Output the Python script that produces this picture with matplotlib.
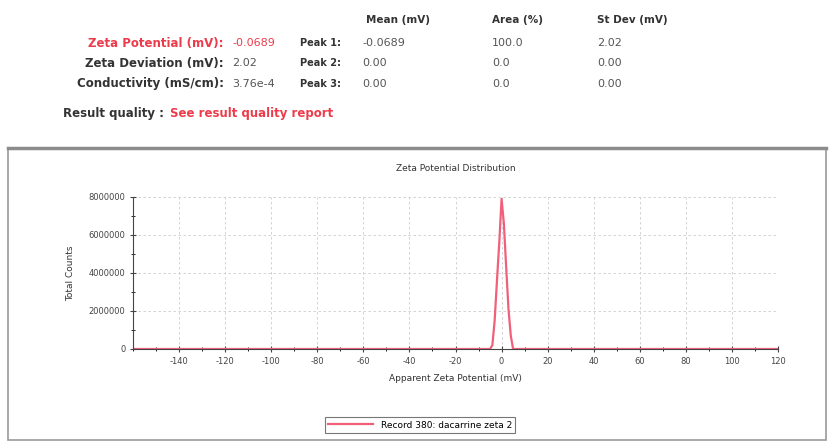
import matplotlib.pyplot as plt
from matplotlib.patches import Rectangle
from matplotlib.ticker import MultipleLocator, FuncFormatter

plt.rcParams["axes.unicode_minus"] = False

# zeta potential distribution (mV vs total counts)
zeta_mv = [-160, -6, -5, -4, -3, -2, -1, 0, 1, 2, 3, 4, 5, 6, 120]
counts = [0, 0, 0, 200000, 1500000, 3600000, 5600000, 7900000, 6600000, 4300000, 2100000, 700000, 0, 0, 0]

summary_labels = ["Zeta Potential (mV):", "Zeta Deviation (mV):", "Conductivity (mS/cm):"]
summary_values = ["-0.0689", "2.02", "3.76e-4"]
peak_labels = ["Peak 1:", "Peak 2:", "Peak 3:"]
peak_mean = ["-0.0689", "0.00", "0.00"]
peak_area = ["100.0", "0.0", "0.0"]
peak_sd = ["2.02", "0.00", "0.00"]
headers = ["Mean (mV)", "Area (%)", "St Dev (mV)"]

W, H = 833, 442
fig = plt.figure(figsize=(W / 100, H / 100), dpi=100)
red = "#ec3b4a"
grey = "#333333"
light = "#555555"


def fx(px):
    return px / W


def fy(py):
    return 1 - py / H


# header table
for txt, x in zip(headers, [366, 492, 597]):
    fig.text(fx(x), fy(20), txt, fontsize=7.5, color=grey, fontweight="bold", va="center")

row_y = [43, 63, 84]
for i, y in enumerate(row_y):
    col = red if i == 0 else grey
    fig.text(fx(224), fy(y), summary_labels[i], fontsize=8.5, color=col, fontweight="bold",
             ha="right", va="center")
    fig.text(fx(232), fy(y), summary_values[i], fontsize=8, color=red if i == 0 else light, va="center")
    fig.text(fx(300), fy(y), peak_labels[i], fontsize=7, color=grey, fontweight="bold", va="center")
    fig.text(fx(362), fy(y), peak_mean[i], fontsize=8, color=light, va="center")
    fig.text(fx(492), fy(y), peak_area[i], fontsize=8, color=light, va="center")
    fig.text(fx(597), fy(y), peak_sd[i], fontsize=8, color=light, va="center")

fig.text(fx(164), fy(114), "Result quality :", fontsize=8.5, color=grey, fontweight="bold",
         ha="right", va="center")
fig.text(fx(170), fy(114), "See result quality report", fontsize=8.5, color=red,
         fontweight="bold", va="center")

# panel frame
fig.patches.append(Rectangle((fx(8), fy(440)), fx(826) - fx(8), fy(148) - fy(440),
                             transform=fig.transFigure, fill=False, edgecolor="#999999", lw=1.2))
fig.add_artist(plt.Line2D([fx(8), fx(826)], [fy(148), fy(148)], color="#8c8c8c", lw=2.5))

ax = fig.add_axes([fx(133), fy(349), fx(778) - fx(133), fy(197) - fy(349)])
ax.plot(zeta_mv, counts, color="#f0607a", lw=1.6, label="Record 380: dacarrine zeta 2")
ax.set_xlim(-160, 120)
ax.set_ylim(0, 8000000)
ax.set_xticks(range(-140, 121, 20))
ax.xaxis.set_minor_locator(MultipleLocator(10))
ax.yaxis.set_major_locator(MultipleLocator(2000000))
ax.yaxis.set_minor_locator(MultipleLocator(1000000))
ax.yaxis.set_major_formatter(FuncFormatter(lambda v, p: "%d" % v))
ax.grid(True, which="major", ls=(0, (3, 3)), color="#cccccc", lw=0.6)
for s in ["top", "right"]:
    ax.spines[s].set_visible(False)
ax.spines["left"].set_color("#444444")
ax.spines["bottom"].set_color("#444444")
ax.tick_params(labelsize=6, colors="#444444", length=4, direction="inout")
ax.tick_params(which="minor", length=3, direction="inout")
ax.set_title("Zeta Potential Distribution", fontsize=6.5, color=grey, pad=19)
ax.set_xlabel("Apparent Zeta Potential (mV)", fontsize=6.5, color=grey, labelpad=6)
ax.set_ylabel("Total Counts", fontsize=6.5, color=grey, labelpad=10)

leg = fig.legend(loc="center", bbox_to_anchor=(fx(420), fy(425)), fontsize=6.5, frameon=True,
                 fancybox=False, edgecolor="#555555", handlelength=5)
leg.get_frame().set_linewidth(0.8)

fig.savefig("out.png", dpi=100)
